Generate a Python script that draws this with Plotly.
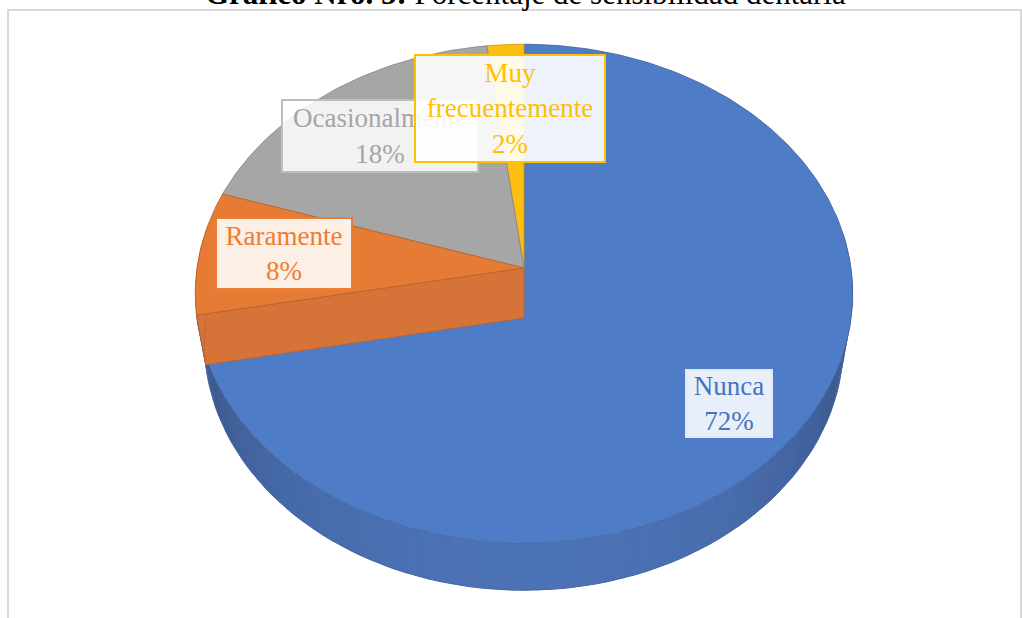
import numpy as np
import plotly.graph_objects as go

# ---------------- data ----------------
categories = ["Nunca", "Raramente", "Ocasionalmente", "Muy frecuentemente"]
values = [72, 8, 18, 2]
label_text = ["Nunca", "Raramente", "Ocasionalmente", "Muy<br>frecuentemente"]
title_bold = "Gráfico Nro. 5:"
title_rest = " Porcentaje de sensibilidad dentaria"

# ---------------- style ----------------
top_colors = [(79, 124, 199), (229, 123, 53), (166, 166, 166), (253, 190, 18)]
side_colors = [(76, 114, 182), (217, 117, 58), (150, 150, 150), (235, 175, 10)]
text_colors = ["#4472C4", "#ED7D31", "#A5A5A5", "#FFC000"]
box_fill = ["rgba(255,255,255,0.88)", "rgba(255,255,255,0.88)",
            "rgba(255,255,255,0.86)", "rgba(255,255,255,0.90)"]
box_border = ["#E4EAF5", "#ED7D31", "#BDBDBD", "#FFC000"]
box_pos = [(729, 403), (284, 253), (380, 136), (510, 108)]
box_size = [(84, 65), (134, 69), (194, 70), (188, 105)]
draw_order = [0, 3, 2, 1]
FONT = "Liberation Serif, Times New Roman, serif"

# projection of a tilted disc with perspective
CX, CY, S, D = 524.0, 268.0, 327.0, 6.37
ALPHA = np.radians(49.0)
H = 0.24


def proj(theta_deg, r, z):
    t = np.radians(theta_deg)
    X = r * np.sin(t)
    Y = r * np.cos(t)
    yc = z * np.cos(ALPHA) + Y * np.sin(ALPHA)
    depth = D + Y * np.cos(ALPHA) - z * np.sin(ALPHA)
    f = D / depth
    return CX + S * X * f, CY - S * yc * f


def rgb(c, k=1.0):
    return "rgb(%d,%d,%d)" % tuple(max(0, min(255, int(round(v * k)))) for v in c)


def shade(theta):
    c = np.cos(np.radians(theta))
    return 0.58 + 0.42 * max(0.0, -c) ** 0.7


total = float(sum(values))
bounds = np.concatenate([[0.0], np.cumsum(values) / total * 360.0])

fig = go.Figure()


def poly(xs, ys, fill, line, lw=0.8):
    xs = list(xs)
    ys = list(ys)
    fig.add_trace(go.Scatter(
        x=xs + [xs[0]], y=ys + [ys[0]], mode="lines",
        fill="toself", fillcolor=fill,
        line=dict(color=line, width=lw),
        hoverinfo="skip", showlegend=False))


for i in draw_order:
    a0, a1 = bounds[i], bounds[i + 1]
    # outer wall (front-facing parts), shaded by orientation
    n = max(2, int(np.ceil((a1 - a0) / 2.0)))
    angs = np.linspace(a0, a1, n + 1)
    for j in range(n):
        ta, tb = angs[j], angs[j + 1]
        tm = 0.5 * (ta + tb)
        if np.cos(np.radians(tm)) > 0.15:
            continue
        tb2 = min(a1, tb + 0.6)
        xa, ya = proj(ta, 1.0, 0.0)
        xb, yb = proj(tb2, 1.0, 0.0)
        xc, yc_ = proj(tb2, 1.0, -H)
        xd, yd = proj(ta, 1.0, -H)
        col = rgb(side_colors[i], shade(tm))
        fig.add_trace(go.Scatter(
            x=[xa, xb, xc, xd, xa], y=[ya, yb, yc_, yd, ya], mode="lines",
            fill="toself", fillcolor=col, line=dict(width=0),
            hoverinfo="skip", showlegend=False))
    # front-facing radial cut faces
    for ang, normal in ((a0, a0 - 90.0), (a1, a1 + 90.0)):
        if values[i] / total >= 0.999:
            break
        if np.cos(np.radians(normal)) < -0.3:
            p1 = proj(ang, 0.0, 0.0)
            p2 = proj(ang, 1.0, 0.0)
            p3 = proj(ang, 1.0, -H)
            p4 = proj(ang, 0.0, -H)
            poly([p1[0], p2[0], p3[0], p4[0]], [p1[1], p2[1], p3[1], p4[1]],
                 rgb(side_colors[i], 0.98), rgb(side_colors[i], 0.85), 0.8)
    # bottom rim line of the wall
    fr = np.linspace(max(a0, 80.0), min(a1, 280.0), 80)
    if fr[-1] > fr[0]:
        bx, by = proj(fr, 1.0, -H)
        fig.add_trace(go.Scatter(
            x=bx, y=by, mode="lines", line=dict(color=rgb(side_colors[i], 0.9), width=1),
            hoverinfo="skip", showlegend=False))
    # top face
    arc = np.linspace(a0, a1, max(3, int(np.ceil((a1 - a0) / 1.0)) + 1))
    ax_, ay_ = proj(arc, 1.0, 0.0)
    cx0, cy0 = proj(0.0, 0.0, 0.0)
    poly([cx0] + list(ax_), [cy0] + list(ay_), rgb(top_colors[i]),
         rgb(top_colors[i], 0.82), 0.9)

# data labels (callouts)
ann = []
for i in [0, 1, 2, 3]:
    pct = "%d%%" % round(values[i] / total * 100)
    x, y = box_pos[i]
    w, h = box_size[i]
    ann.append(dict(
        x=x, y=y, xref="x", yref="y", showarrow=False,
        text=label_text[i] + "<br>" + pct, align="center",
        font=dict(family=FONT, size=27, color=text_colors[i]),
        bgcolor=box_fill[i], bordercolor=box_border[i], borderwidth=2,
        borderpad=0, width=w, height=h, valign="middle"))

ann.append(dict(
    x=525 / 1022.0, y=1 + 7 / 618.0, xref="paper", yref="paper",
    showarrow=False, xanchor="center", yanchor="middle",
    text="<b>" + title_bold + "</b>" + title_rest,
    font=dict(family=FONT, size=31, color="black")))

fig.update_layout(
    width=1022, height=618,
    margin=dict(l=0, r=0, t=0, b=0, pad=0),
    paper_bgcolor="white", plot_bgcolor="white",
    xaxis=dict(range=[0, 1022], visible=False, fixedrange=True),
    yaxis=dict(range=[618, 0], visible=False, fixedrange=True),
    annotations=ann,
    shapes=[dict(type="rect", xref="x", yref="y", x0=8, y0=10, x1=1021, y1=640,
                 line=dict(color="#D9D9D9", width=2), layer="below")],
    showlegend=False,
)

fig.write_html("out.html")
